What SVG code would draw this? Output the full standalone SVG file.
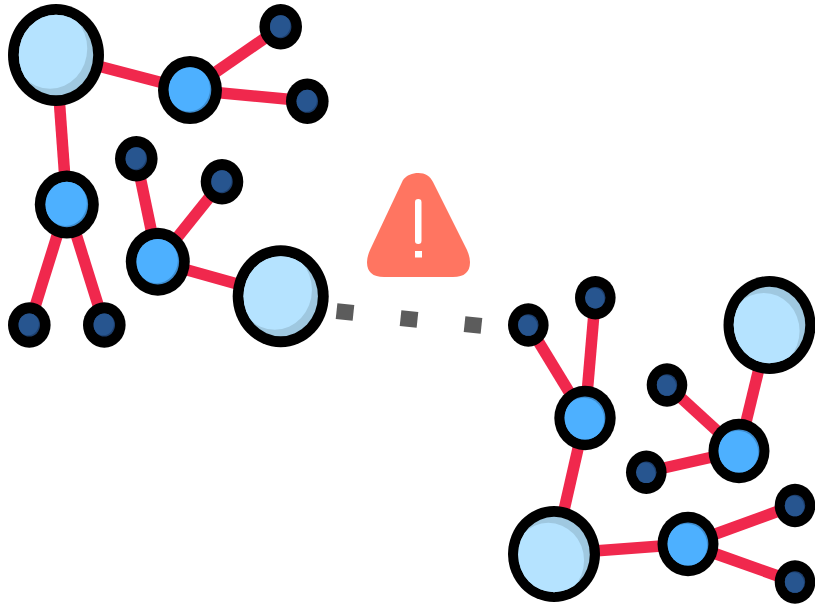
<svg xmlns="http://www.w3.org/2000/svg" width="815" height="606" viewBox="0 0 815 606">
<style>
.edge{stroke:#f0284d;stroke-width:11.500;fill:none}
.dot{fill:#5c5c5c}
.ring{fill:#000}
.b1{fill:#9fc8e0}.b2{fill:#b5e3ff}
.m1{fill:#3d8ccf}.m2{fill:#4db0ff}
.s1{fill:#1d3f6e}.s2{fill:#27558f}
</style>
<defs>
<clipPath id="unit"><circle r="1"/></clipPath>
<g id="big"><circle class="b1" r="1"/><circle class="b2" cx="-.16" cy="-.16" r="1" clip-path="url(#unit)"/></g>
<g id="med"><circle class="m1" r="1"/><circle class="m2" cx="-.06" cy="-.06" r="1" clip-path="url(#unit)"/></g>
<g id="small"><circle class="s1" r="1"/><circle class="s2" cx="-.1" cy="-.1" r="1" clip-path="url(#unit)"/></g>
</defs>
<g id="connectors">
<line class="edge" x1="56" y1="55" x2="190" y2="90"/>
<line class="edge" x1="190" y1="90" x2="281" y2="27"/>
<line class="edge" x1="190" y1="90" x2="307" y2="101"/>
<line class="edge" x1="56" y1="55" x2="66.800" y2="204.500"/>
<line class="edge" x1="66.800" y1="204.500" x2="29.300" y2="325"/>
<line class="edge" x1="66.800" y1="204.500" x2="104.300" y2="325"/>
<line class="edge" x1="157.800" y1="261.700" x2="136.300" y2="158.700"/>
<line class="edge" x1="157.800" y1="261.700" x2="222" y2="181.700"/>
<line class="edge" x1="157.800" y1="261.700" x2="280.700" y2="296.200"/>
<line class="edge" x1="528.300" y1="325" x2="585" y2="418"/>
<line class="edge" x1="595.300" y1="297.700" x2="585" y2="418"/>
<line class="edge" x1="585" y1="418" x2="554" y2="554"/>
<line class="edge" x1="554" y1="554" x2="688" y2="544"/>
<line class="edge" x1="688" y1="544" x2="795" y2="505"/>
<line class="edge" x1="688" y1="544" x2="795" y2="582"/>
<line class="edge" x1="739" y1="451" x2="769.500" y2="325"/>
<line class="edge" x1="739" y1="451" x2="667" y2="385"/>
<line class="edge" x1="739" y1="451" x2="646" y2="472"/>
<rect class="dot" x="-8.500" y="-8" width="17" height="16" transform="translate(345 312) rotate(6)"/>
<rect class="dot" x="-8.500" y="-8" width="17" height="16" transform="translate(409 319) rotate(6)"/>
<rect class="dot" x="-8.500" y="-8" width="17" height="16" transform="translate(473 325) rotate(6)"/>
</g>
<g id="node-a1"><ellipse class="ring" cx="56" cy="55" rx="48" ry="51"/><use href="#big" transform="translate(56 55) scale(37.200 40.200)"/></g>
<g id="node-a2"><ellipse class="ring" cx="190" cy="90" rx="32" ry="34"/><use href="#med" transform="translate(190 90) scale(21.300 22.800)"/></g>
<g id="node-a3"><ellipse class="ring" cx="280.700" cy="26.700" rx="21.300" ry="22.700"/><use href="#small" transform="translate(280.700 26.700) scale(10.700 11.500)"/></g>
<g id="node-a4"><ellipse class="ring" cx="307.300" cy="101.300" rx="21.300" ry="22.700"/><use href="#small" transform="translate(307.300 101.300) scale(10.700 11.500)"/></g>
<g id="node-a5"><ellipse class="ring" cx="66.800" cy="204.500" rx="32" ry="34"/><use href="#med" transform="translate(66.800 204.500) scale(21.300 22.800)"/></g>
<g id="node-a6"><ellipse class="ring" cx="29.300" cy="325" rx="21.300" ry="22.700"/><use href="#small" transform="translate(29.300 325) scale(10.700 11.500)"/></g>
<g id="node-a7"><ellipse class="ring" cx="104.300" cy="325" rx="21.300" ry="22.700"/><use href="#small" transform="translate(104.300 325) scale(10.700 11.500)"/></g>
<g id="node-a8"><ellipse class="ring" cx="157.800" cy="261.700" rx="32" ry="34"/><use href="#med" transform="translate(157.800 261.700) scale(21.300 22.800)"/></g>
<g id="node-a9"><ellipse class="ring" cx="136.300" cy="158.700" rx="21.300" ry="22.700"/><use href="#small" transform="translate(136.300 158.700) scale(10.700 11.500)"/></g>
<g id="node-a10"><ellipse class="ring" cx="222" cy="181.700" rx="21.300" ry="22.700"/><use href="#small" transform="translate(222 181.700) scale(10.700 11.500)"/></g>
<g id="node-a11"><ellipse class="ring" cx="280.700" cy="296.200" rx="48" ry="51"/><use href="#big" transform="translate(280.700 296.200) scale(37.200 40)"/></g>
<g id="node-b1"><ellipse class="ring" cx="528.300" cy="325" rx="20.300" ry="21.700"/><use href="#small" transform="translate(528.300 325) scale(10.200 10.800) rotate(-90)"/></g>
<g id="node-b2"><ellipse class="ring" cx="595.300" cy="297.700" rx="20.300" ry="21.700"/><use href="#small" transform="translate(595.300 297.700) scale(10.200 10.800) rotate(-90)"/></g>
<g id="node-b3"><ellipse class="ring" cx="585" cy="418" rx="30.700" ry="32.300"/><use href="#med" transform="translate(585 418) scale(20.400 21.600) rotate(-90)"/></g>
<g id="node-b4"><ellipse class="ring" cx="554" cy="554" rx="46" ry="48"/><use href="#big" transform="translate(554 554.500) scale(35.800 37.700) rotate(-90)"/></g>
<g id="node-b5"><ellipse class="ring" cx="688" cy="544" rx="30.500" ry="32.300"/><use href="#med" transform="translate(688 544) scale(20.400 21.600) rotate(-90)"/></g>
<g id="node-b6"><ellipse class="ring" cx="795" cy="505.500" rx="20.300" ry="21.700"/><use href="#small" transform="translate(795 505.500) scale(10.200 10.800) rotate(-90)"/></g>
<g id="node-b7"><ellipse class="ring" cx="795" cy="582" rx="20.300" ry="21.700"/><use href="#small" transform="translate(795 582) scale(10.200 10.800) rotate(-90)"/></g>
<g id="node-b8"><ellipse class="ring" cx="769.500" cy="325" rx="46" ry="49"/><use href="#big" transform="translate(769.500 325) scale(35.800 38.200) rotate(-90)"/></g>
<g id="node-b9"><ellipse class="ring" cx="739" cy="451" rx="30.500" ry="32.300"/><use href="#med" transform="translate(739 451) scale(20.400 21.600) rotate(-90)"/></g>
<g id="node-b10"><ellipse class="ring" cx="667" cy="385" rx="20.300" ry="21.700"/><use href="#small" transform="translate(667 385) scale(10.200 10.800) rotate(-90)"/></g>
<g id="node-b11"><ellipse class="ring" cx="646.300" cy="472.300" rx="20.300" ry="21.700"/><use href="#small" transform="translate(646.300 472.300) scale(10.200 10.800) rotate(-90)"/></g>
<g id="warning">
<path fill="#ff7561" d="M403 180C407 175 412 173 418.500 173C425 173 430 176 433 182L467 250Q470 257 470 262Q470 277 453 277L384 277Q367 277 367 262Q367 257 370 250Z"/>
<rect x="415" y="199" width="6.500" height="45" rx="3.200" fill="#fff"/>
<rect x="415" y="251" width="7" height="6.500" fill="#fff"/>
</g>
</svg>
